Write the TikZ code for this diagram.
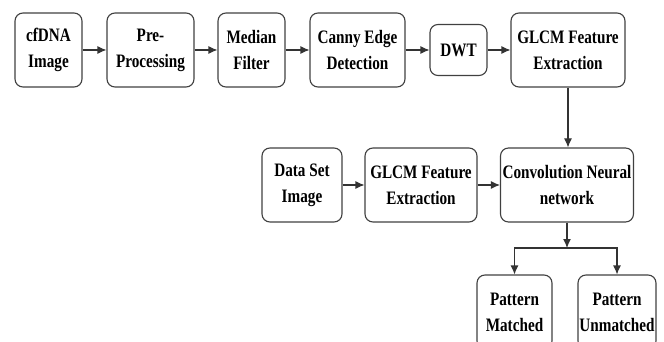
\documentclass[tikz,border=0pt]{standalone}
\usepackage{fontspec}
\setmainfont{Liberation Serif}[FakeStretch=0.8]
\usetikzlibrary{arrows.meta}

\begin{document}
\begin{tikzpicture}[x=1pt, y=-1pt,
    blk/.style={draw=black!75, line width=1.1pt, rounded corners=8pt, align=center,
        inner sep=0pt, minimum height=74pt, font=\fontsize{19}{26}\selectfont\bfseries},
    flow/.style={-{Latex[length=9pt,width=8pt]}, line width=1.1pt, draw=black!80}]
    \clip (0,0) rectangle (664,342);

    % Top row
    \node[blk, minimum width=67pt] (cfdna) at (48.5,50) {cfDNA\\Image};
    \node[blk, minimum width=87pt] (prep) at (150.5,50) {Pre-\\Processing};
    \node[blk, minimum width=67pt] (median) at (251.5,50) {Median\\Filter};
    \node[blk, minimum width=95pt] (canny) at (357.5,50) {Canny Edge\\Detection};
    \node[blk, minimum width=57pt, minimum height=51pt] (dwt) at (458.5,50) {DWT};
    \node[blk, minimum width=114pt] (glcmA) at (568,50) {GLCM Feature\\Extraction};

    % Second row
    \node[blk, minimum width=80pt] (dataset) at (302,185) {Data Set\\Image};
    \node[blk, minimum width=112pt] (glcmB) at (421,185) {GLCM Feature\\Extraction};
    \node[blk, minimum width=133pt] (cnn) at (567,185) {Convolution Neural\\network};

    % Results
    \node[blk, minimum width=75pt] (matched) at (514.5,312) {Pattern\\Matched};
    \node[blk, minimum width=78pt] (unmatched) at (617,312) {Pattern\\Unmatched};
    \coordinate (split) at (567,248);

    \draw[flow] (cfdna) -- (prep);
    \draw[flow] (prep) -- (median);
    \draw[flow] (median) -- (canny);
    \draw[flow] (canny) -- (dwt);
    \draw[flow] (dwt) -- (glcmA);
    \draw[flow] (glcmA) -- (glcmA |- cnn.north);
    \draw[flow] (dataset) -- (glcmB);
    \draw[flow] (glcmB) -- (cnn);
    \draw[flow] (cnn) -- (split);
    \draw[flow] (split) -| (matched);
    \draw[flow] (split) -| (unmatched);
\end{tikzpicture}
\end{document}
